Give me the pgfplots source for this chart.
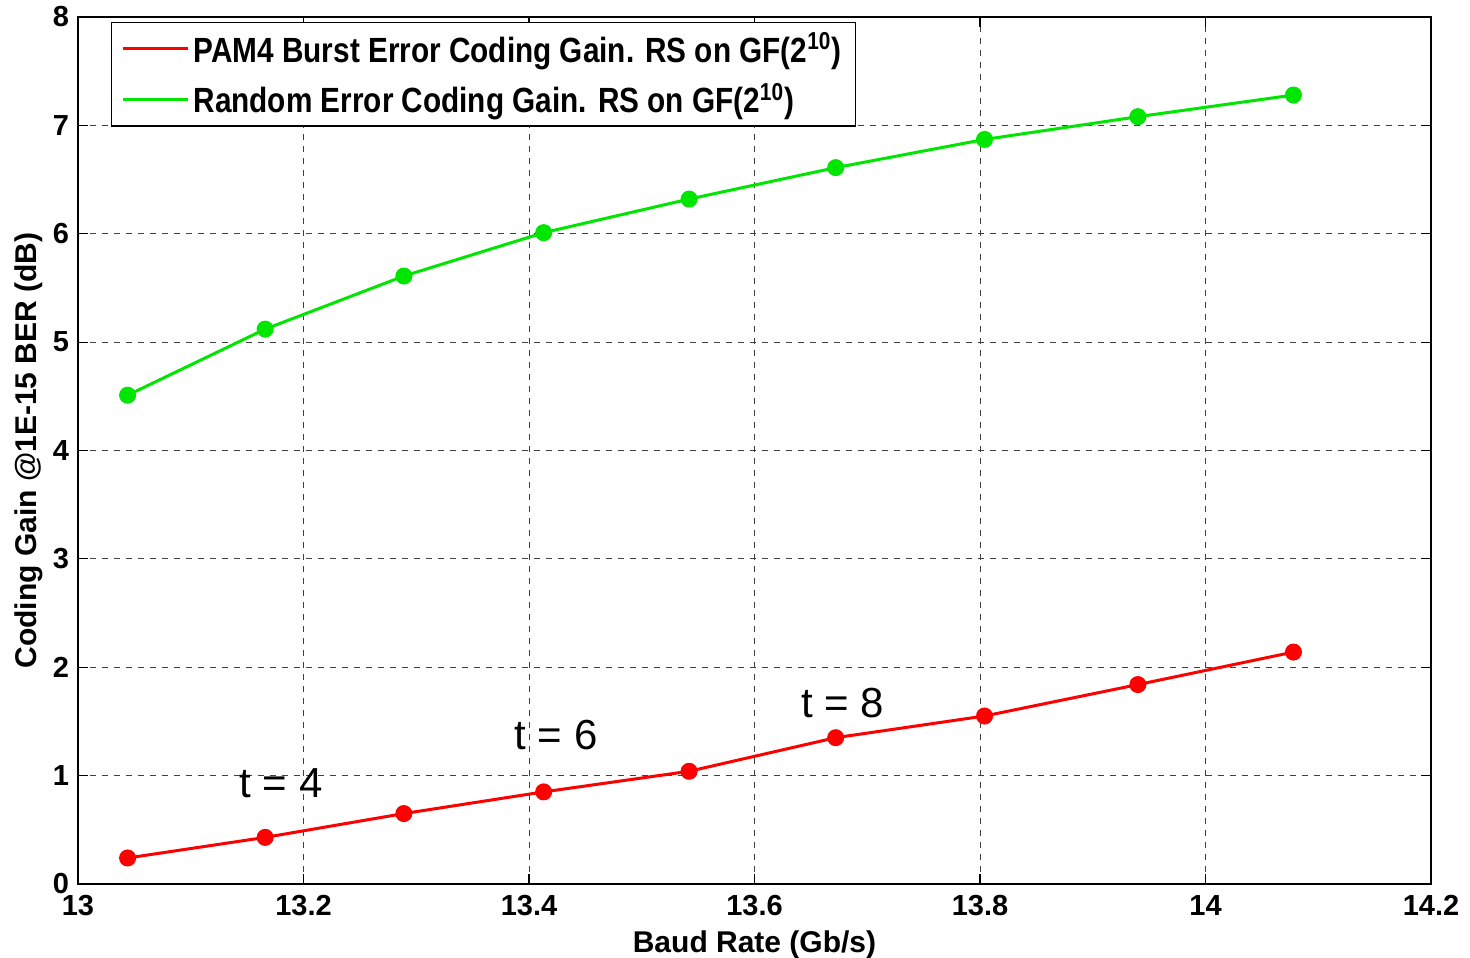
\documentclass[border=0pt]{standalone}
\usepackage{pgfplots}
\pgfplotsset{compat=1.18}
\usepackage{fontspec}
\setmainfont{Liberation Sans}
\newfontfamily\narrowfont[FakeStretch=0.85]{Liberation Sans}
\begin{document}
\begin{tikzpicture}
\path[use as bounding box] (-39pt,-36.5pt) rectangle (696pt,442pt);
\begin{axis}[
  scale only axis,
  width=676.5pt, height=433.5pt,
  xmin=13, xmax=14.2, ymin=0, ymax=8,
  xtick={13,13.2,...,14.2},
  ytick={0,1,...,8},
  xticklabels={13,13.2,13.4,13.6,13.8,14,14.2},
  /pgf/number format/assume math mode=true,
  tick label style={font=\fontsize{14.5}{16}\selectfont\bfseries},
  label style={font=\fontsize{15}{17}\selectfont\bfseries},
  xlabel={Baud Rate (Gb/s)},
  ylabel={Coding Gain @1E-15 BER (dB)},
  xlabel style={yshift=-0.5pt},
  ylabel style={yshift=-2pt},
  tick align=inside, ticks=major,
  major tick length=5pt,
  xtick pos=both, ytick pos=both,
  grid=major,
  major grid style={black!75, dashed, line width=0.5pt},
  axis line style={black, line width=0.8pt},
  tick style={black, line width=0.6pt},
  xticklabel style={yshift=-2pt},
  yticklabel style={xshift=-1pt},
  legend style={at={(rel axis cs:0.0244,0.9942)}, anchor=north west,
    draw=black, line width=0.6pt, fill=white,
    font=\narrowfont\fontsize{17.5}{19}\selectfont\bfseries,
    row sep=5pt, inner xsep=5pt, inner ysep=3pt},
  legend cell align=left,
  legend image code/.code={\draw[#1, mark=none, line width=1.5pt] (0pt,0pt) -- (32.5pt,0pt);},
  clip=false,
]
\addplot[red, line width=1.5pt, mark=*, mark size=3.5pt, mark options={solid, fill=red}] coordinates {
(13.044,0.24) (13.166,0.43) (13.289,0.65) (13.413,0.85) (13.542,1.04)
(13.672,1.35) (13.804,1.55) (13.940,1.84) (14.078,2.14)};
\addlegendentry{PAM4 Burst Error Coding Gain. RS on GF(2\textsuperscript{10})}
\addplot[color={rgb,255:red,0;green,230;blue,0}, line width=1.5pt, mark=*, mark size=3.5pt, mark options={solid, fill={rgb,255:red,0;green,230;blue,0}}] coordinates {
(13.044,4.51) (13.166,5.12) (13.289,5.61) (13.413,6.01) (13.542,6.32)
(13.672,6.61) (13.804,6.87) (13.940,7.08) (14.078,7.28)};
\addlegendentry{Random Error Coding Gain. RS on GF(2\textsuperscript{10})}
\node[font=\fontsize{21}{23}\selectfont] at (axis cs:13.18,0.93) {t = 4};
\node[font=\fontsize{21}{23}\selectfont] at (axis cs:13.424,1.37) {t = 6};
\node[font=\fontsize{21}{23}\selectfont] at (axis cs:13.678,1.67) {t = 8};
\end{axis}
\end{tikzpicture}
\end{document}
